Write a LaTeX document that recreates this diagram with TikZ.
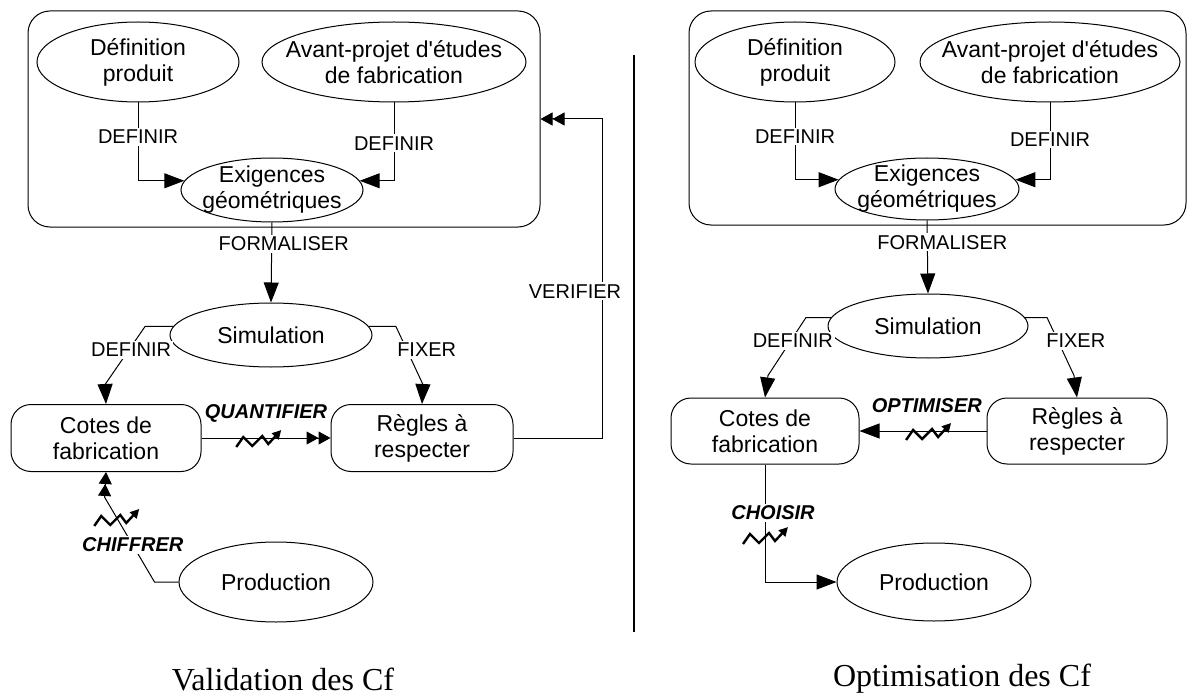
\documentclass[tikz,border=0pt]{standalone}
\usepackage{fontspec}
\setmainfont{Liberation Sans}[Ligatures=TeXOff]
\newfontfamily\serifcap{Liberation Serif}
\usetikzlibrary{shapes.geometric,arrows.meta}
\newcommand{\fnoeud}{\fontsize{23}{26}\selectfont}
\newcommand{\flien}{\fontsize{20}{22}\selectfont}
\newcommand{\flieni}{\fontsize{20}{22}\selectfont\bfseries\itshape}
\newcommand{\flegende}{\serifcap\fontsize{32}{36}\selectfont}
\newcommand{\eclair}[1]{\draw[zz] (#1) ++(-22,9) -- ++(7,-10) -- ++(9,9) -- ++(10,-10) -- ++(6,8) -- ++(13,-14);}
\begin{document}
\begin{tikzpicture}[x=1pt,y=-1pt,
  ovale/.style={ellipse, draw, line width=1pt, inner sep=0pt},
  boite/.style={draw, rounded corners=20pt, line width=1pt, align=center, font=\fnoeud},
  cadre/.style={draw, rounded corners=22pt, line width=1pt},
  txt/.style={align=center, font=\fnoeud},
  lab/.style={fill=white, inner sep=2pt, font=\flien},
  labi/.style={fill=white, inner sep=2pt, font=\flieni},
  fl/.style={line width=1pt, -{Triangle[length=20pt,width=15pt]}},
  dfl/.style={line width=1pt, -{Triangle[length=12pt,width=13pt]Triangle[length=12pt,width=13pt]}},
  zz/.style={line width=2.4pt, line join=miter, -{Triangle[length=9pt,width=9pt]}}]
\useasboundingbox (0,0) rectangle (1188,695);
% Validation des Cf
\node[cadre, minimum width=512pt, minimum height=216pt] (cadre1) at (284,119) {};
\node[ovale, minimum width=202pt, minimum height=80pt, label={[txt]center:{Définition\\produit}}] (def1) at (138,62) {};
\node[ovale, minimum width=264pt, minimum height=80pt, label={[txt]center:{Avant-projet d'études\\de fabrication}}] (proj1) at (394,62) {};
\node[ovale, minimum width=182pt, minimum height=64pt, label={[txt]center:{Exigences\\géométriques}}] (exig1) at (272,190) {};
\node[ovale, minimum width=202pt, minimum height=64pt, label={[txt]center:Simulation}] (sim1) at (271,335) {};
\node[boite, minimum width=190pt, minimum height=67pt] (cotes1) at (106,438) {Cotes de\\fabrication};
\node[boite, minimum width=182pt, minimum height=67pt] (regles1) at (422,438) {Règles à\\respecter};
\node[ovale, minimum width=194pt, minimum height=80pt, label={[txt]center:Production}] (prod1) at (276,582) {};
\coordinate (verif) at (602,119);

\draw[fl] (def1.south) |- node[lab, pos=0.22]{DEFINIR} (exig1.174);
\draw[fl] (proj1.south) |- node[lab, pos=0.26]{DEFINIR} (exig1.6);
\draw[fl] (exig1.south) -- node[lab, pos=0.27, xshift=12pt]{FORMALISER} (sim1.north);
\draw[fl] (sim1.175) -- ++(-28,0) -- node[lab, pos=0.4, xshift=2pt]{DEFINIR} ++(-40,58) -- (cotes1.north);
\draw[fl] (sim1.5) -- ++(27,0) -- node[lab, pos=0.4, xshift=20pt]{FIXER} ++(27,58) -- (regles1.north);
\draw[dfl] (cotes1) -- node[labi, yshift=25pt]{QUANTIFIER} coordinate[pos=0.44] (zq) (regles1);
\draw[dfl] (regles1.east) -| node[lab, pos=0.73, xshift=-27pt]{VERIFIER} (verif) -- (cadre1.east);
\draw[dfl] (prod1.west) -- ++(-24,0) -- node[labi, pos=0.435]{CHIFFRER} coordinate[pos=0.765] (zc) ++(-50,-85) -- (cotes1.south);
\eclair{zq}
\eclair{zc}
\node[font=\flegende] (titre1) at (283,679) {Validation des Cf};

% separation
\draw[line width=1.5pt] (634,55) -- (634,632);

% Optimisation des Cf
\node[cadre, minimum width=497pt, minimum height=214pt] (cadre2) at (937.5,118) {};
\node[ovale, minimum width=200pt, minimum height=80pt, label={[txt]center:{Définition\\produit}}] (def2) at (795,62) {};
\node[ovale, minimum width=260pt, minimum height=80pt, label={[txt]center:{Avant-projet d'études\\de fabrication}}] (proj2) at (1050,62) {};
\node[ovale, minimum width=184pt, minimum height=62pt, label={[txt]center:{Exigences\\géométriques}}] (exig2) at (927,189) {};
\node[ovale, minimum width=200pt, minimum height=64pt, label={[txt]center:Simulation}] (sim2) at (928,326) {};
\node[boite, minimum width=188pt, minimum height=66pt] (cotes2) at (765,431) {Cotes de\\fabrication};
\node[boite, minimum width=180pt, minimum height=66pt] (regles2) at (1077,431) {Règles à\\respecter};
\node[ovale, minimum width=194pt, minimum height=78pt, label={[txt]center:Production}] (prod2) at (934,582) {};

\draw[fl] (def2.south) |- node[lab, pos=0.22]{DEFINIR} (exig2.174);
\draw[fl] (proj2.south) |- node[lab, pos=0.24]{DEFINIR} (exig2.6);
\draw[fl] (exig2.south) -- node[lab, pos=0.3, xshift=15pt]{FORMALISER} (sim2.north);
\draw[fl] (sim2.175) -- ++(-25,0) -- node[lab, pos=0.4, xshift=2pt]{DEFINIR} ++(-38,58) -- (cotes2.north);
\draw[fl] (sim2.5) -- ++(22,0) -- node[lab, pos=0.4, xshift=18pt]{FIXER} ++(27,58) -- (regles2.north);
\draw[fl] (regles2) -- node[labi, pos=0.47, yshift=25pt]{OPTIMISER} coordinate[pos=0.46] (zo) (cotes2);
\draw[fl] (cotes2.south) |- node[labi, pos=0.206, xshift=8pt]{CHOISIR} coordinate[pos=0.3] (zch) (prod2.west);
\eclair{zo}
\eclair{zch}
\node[font=\flegende] (titre2) at (962,679) {Optimisation des Cf};
\end{tikzpicture}
\end{document}
